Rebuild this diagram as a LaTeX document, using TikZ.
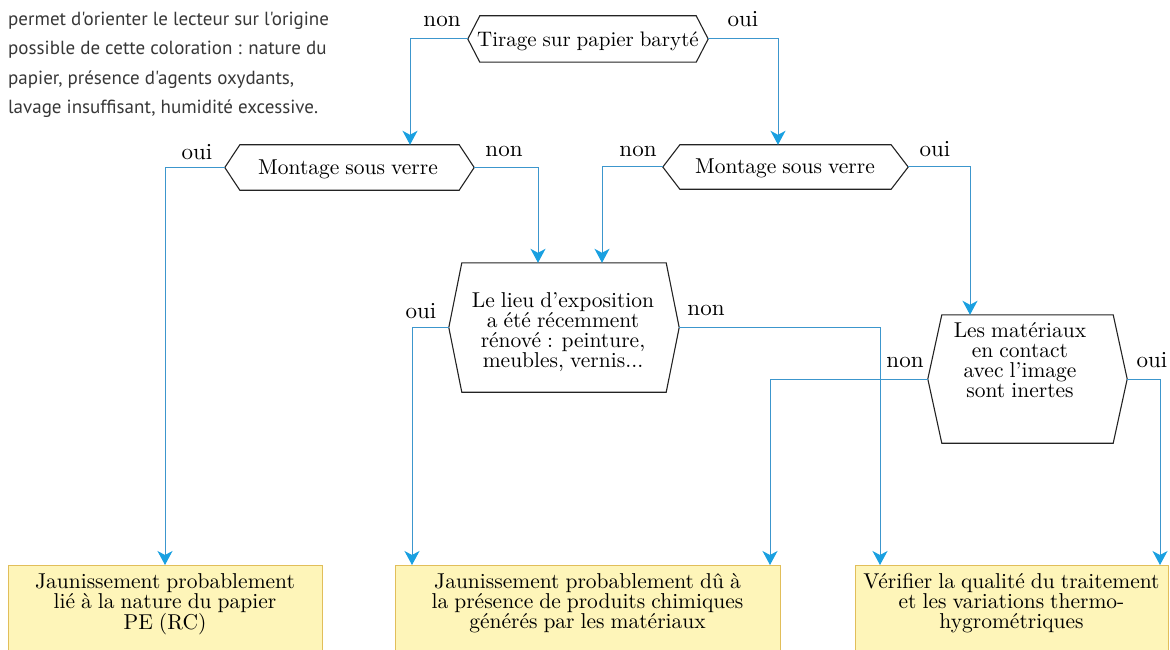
\documentclass[tikz,border=0pt]{standalone}
\usepackage{fontspec}
\setmainfont{lmroman10-regular.otf}
\newfontfamily\introfont{PT Sans}
\usetikzlibrary{arrows.meta}
\definecolor{linkc}{RGB}{60,150,205}
\definecolor{tipc}{RGB}{25,160,225}
\definecolor{boxfill}{RGB}{254,245,185}
\definecolor{boxline}{RGB}{225,190,90}
\definecolor{hexl}{RGB}{35,35,35}
\definecolor{introc}{RGB}{55,55,55}
\newcommand\serifsize[2]{\fontsize{#1}{#2}\selectfont\spaceskip=.28em plus .1em minus .05em\relax}
\tikzset{
  hexbox/.style={inner sep=0pt, draw=none},
  hexline/.style={draw=hexl, line width=1.1pt, line join=miter},
  hextext/.style={inner sep=0pt, align=center, font=\serifsize{21.5}{20}},
  link/.style={draw=linkc, line width=1pt, -{Stealth[length=14pt,width=15pt,inset=4pt,color=tipc]}},
  resbox/.style={draw=boxline, fill=boxfill, line width=1pt, anchor=north, inner sep=0pt, minimum height=100pt},
  restext/.style={inner sep=0pt, anchor=north, align=center, font=\serifsize{21.5}{20}},
  lab/.style={inner sep=0pt, anchor=base, font=\serifsize{23}{23}}
}
\newcommand\hexout[2]{%
  \draw[hexline] (#1.north west) -- (#1.north east) -- ([xshift=#2]#1.east)
    -- (#1.south east) -- (#1.south west) -- ([xshift=-#2]#1.west) -- cycle;
  \coordinate (#1W) at ([xshift=-#2]#1.west);
  \coordinate (#1E) at ([xshift=#2]#1.east);}
\begin{document}
\begin{tikzpicture}[x=1pt,y=-1pt]
\useasboundingbox (0,0) rectangle (1170,650);
\clip (0,0) rectangle (1170,650);

% intro text
\node[inner sep=0pt, anchor=north west, align=left, text=introc,
      font=\introfont\fontsize{19}{29.5}\selectfont] (intro) at (8,11.5) {%
permet d'orienter le lecteur sur l'origine\\
possible de cette coloration : nature du\\
papier, présence d'agents oxydants,\\
lavage insuffisant, humidité excessive.};

% hexagons
\node[hexbox, minimum width=216pt, minimum height=46pt] (T) at (588,39) {};
\hexout{T}{12pt}
\node[hextext, anchor=base, font=\serifsize{21}{20}] (Tt) at (588,47) {Tirage sur papier baryté};

\node[hexbox, minimum width=219pt, minimum height=45pt] (ML) at (349.5,167.5) {};
\hexout{ML}{15pt}
\node[hextext, anchor=base] (MLt) at (348,175) {Montage sous verre};

\node[hexbox, minimum width=211pt, minimum height=44pt] (MR) at (785.5,167) {};
\hexout{MR}{17pt}
\node[hextext, anchor=base] (MRt) at (785,174) {Montage sous verre};

\node[hexbox, minimum width=204pt, minimum height=129pt] (C) at (564,327.5) {};
\hexout{C}{13pt}
\node[hextext, anchor=north] (Ct) at (563,292) {Le lieu d'exposition\\a été récemment\\rénové : peinture,\\meubles, vernis...};

\node[hexbox, minimum width=171pt, minimum height=128pt] (R) at (1027.5,379) {};
\hexout{R}{14pt}
\node[hextext, anchor=north] (Rt) at (1020,322) {Les matériaux\\en contact\\avec l'image\\sont inertes};

% result boxes
\node[resbox, minimum width=314pt] (B1) at (165,565) {};
\node[restext] (B1t) at (165,573) {Jaunissement probablement\\lié à la nature du papier\\PE (RC)};
\node[resbox, minimum width=385pt] (B2) at (587.5,565) {};
\node[restext] (B2t) at (587.5,573) {Jaunissement probablement dû à\\la présence de produits chimiques\\générés par les matériaux};
\node[resbox, minimum width=313pt] (B3) at (1011.5,565) {};
\node[restext] (B3t) at (1011.5,573) {Vérifier la qualité du traitement\\et les variations thermo-\\hygrométriques};

% connectors
\draw[link] (TW) -| ([xshift=60.5pt]ML.north);
\draw[link] (TE) -| ([xshift=-7.5pt]MR.north);
\draw[link] (MLW) -| (B1.north);
\draw[link] (MLE) -| ([xshift=-26pt]C.north);
\draw[link] (MRW) -| ([xshift=38pt]C.north);
\draw[link] (MRE) -| ([xshift=-57.5pt]R.north);
\draw[link] (CW) -| ([xshift=-175.5pt]B2.north);
\draw[link] (CE) -| ([xshift=-131.5pt]B3.north);
\draw[link] (RW) -| ([xshift=182.5pt]B2.north);
\draw[link] (RE) -| ([xshift=148.5pt]B3.north);

% labels
\node[lab] (l1) at (442,27) {non};
\node[lab] (l2) at (743,27) {oui};
\node[lab] (l3) at (197,160) {oui};
\node[lab] (l4) at (504,157) {non};
\node[lab] (l5) at (638,157) {non};
\node[lab] (l6) at (935,157) {oui};
\node[lab] (l7) at (421,318) {oui};
\node[lab] (l8) at (706,315) {non};
\node[lab] (l9) at (905,367) {non};
\node[lab] (l10) at (1152,367) {oui};
\end{tikzpicture}
\end{document}
